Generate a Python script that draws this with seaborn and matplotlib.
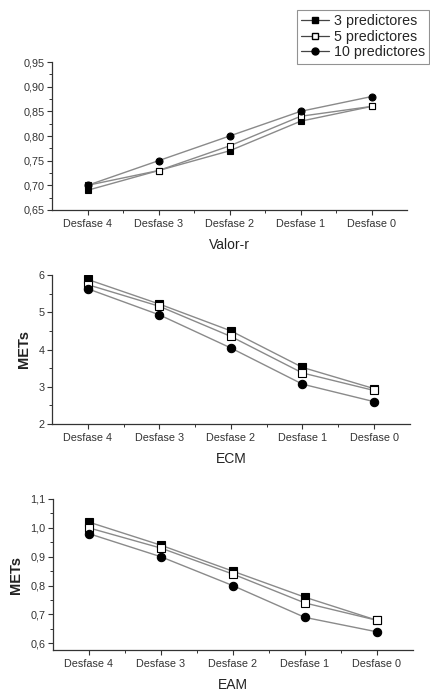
import matplotlib
matplotlib.use("Agg")
import matplotlib.pyplot as plt
import seaborn as sns
import pandas as pd
from matplotlib.ticker import FixedLocator, FuncFormatter, MultipleLocator
from matplotlib.lines import Line2D

categories = ["Desfase 4", "Desfase 3", "Desfase 2", "Desfase 1", "Desfase 0"]
series_names = ["3 predictores", "5 predictores", "10 predictores"]

valor_r_3 = [0.69, 0.73, 0.77, 0.83, 0.86]
valor_r_5 = [0.70, 0.73, 0.78, 0.84, 0.86]
valor_r_10 = [0.70, 0.75, 0.80, 0.85, 0.88]

ecm_3 = [5.88, 5.22, 4.50, 3.52, 2.95]
ecm_5 = [5.74, 5.16, 4.35, 3.37, 2.90]
ecm_10 = [5.63, 4.93, 4.04, 3.07, 2.60]

eam_3 = [1.02, 0.94, 0.85, 0.76, 0.68]
eam_5 = [1.00, 0.93, 0.84, 0.74, 0.68]
eam_10 = [0.98, 0.90, 0.80, 0.69, 0.64]

yticks_r = [0.65, 0.70, 0.75, 0.80, 0.85, 0.90, 0.95]
yticks_ecm = [2, 3, 4, 5, 6]
yticks_eam = [0.6, 0.7, 0.8, 0.9, 1.0, 1.1]

sns.set_theme(style="ticks")
plt.rcParams["font.family"] = ["Liberation Sans", "DejaVu Sans"]

LINE = "#8a8a8a"
styles = [
    dict(marker="s", markerfacecolor="black", markeredgecolor="black"),
    dict(marker="s", markerfacecolor="white", markeredgecolor="black"),
    dict(marker="o", markerfacecolor="black", markeredgecolor="black"),
]

fig = plt.figure(figsize=(4.30, 6.91), dpi=100)

def panel(rect, data, ylim, yticks, minor, decimals, xlabel, ylabel, msize):
    ax = fig.add_axes(rect)
    for name, vals, st in zip(series_names, data, styles):
        df = pd.DataFrame({"cat": categories, "val": vals})
        sns.lineplot(data=df, x="cat", y="val", ax=ax, color=LINE, linewidth=1.0,
                     markersize=msize, markeredgewidth=0.8, sort=False,
                     label=name, legend=False, **st)
    ax.set_xlim(-0.5, 4.5)
    ax.set_ylim(*ylim)
    ax.yaxis.set_major_locator(FixedLocator(yticks))
    ax.yaxis.set_minor_locator(MultipleLocator(minor))
    ax.xaxis.set_minor_locator(FixedLocator([0.5, 1.5, 2.5, 3.5]))
    if decimals is None:
        ax.yaxis.set_major_formatter(FuncFormatter(lambda v, p: f"{v:.0f}"))
    else:
        ax.yaxis.set_major_formatter(FuncFormatter(lambda v, p: f"{v:.{decimals}f}".replace(".", ",")))
    for s in ["top", "right"]:
        ax.spines[s].set_visible(False)
    for s in ["left", "bottom"]:
        ax.spines[s].set_color("#333333")
        ax.spines[s].set_linewidth(0.9)
    ax.tick_params(axis="both", which="major", direction="out", length=3.5, width=0.8,
                   labelsize=7.8, colors="#333333", pad=2)
    ax.tick_params(axis="x", which="major", pad=3.2)
    ax.tick_params(axis="both", which="minor", direction="out", length=2, width=0.7,
                   colors="#333333")
    ax.set_xlabel(xlabel, fontsize=10, color="#222222", labelpad=6)
    ax.set_ylabel(ylabel, fontsize=10.5, color="#222222", fontweight="bold", labelpad=5)
    return ax

ax1 = panel([0.121, 1 - 210 / 691, 0.826, 148 / 691], [valor_r_3, valor_r_5, valor_r_10],
            (0.65, 0.95), yticks_r, 0.025, 2, "Valor-r", "", 5)
ax2 = panel([0.121, 1 - 424 / 691, 0.832, 149 / 691], [ecm_3, ecm_5, ecm_10],
            (2, 6), yticks_ecm, 0.5, None, "ECM", "METs", 6)
ax3 = panel([0.123, 1 - 650 / 691, 0.837, 151 / 691], [eam_3, eam_5, eam_10],
            (0.577, 1.1), yticks_eam, 0.05, 1, "EAM", "METs", 6)

handles = [Line2D([0], [0], color="#444444", linewidth=0.9, markersize=5, **st) for st in styles]
leg = fig.legend(handles, series_names, loc="upper right", bbox_to_anchor=(0.998, 0.986),
                 fontsize=10.3, frameon=True, fancybox=False, edgecolor="#777777",
                 handlelength=2.0, handletextpad=0.3, borderpad=0.3, labelspacing=0.12,
                 borderaxespad=0)
leg.get_frame().set_linewidth(0.8)

fig.savefig("out.png", dpi=100, facecolor="white")
